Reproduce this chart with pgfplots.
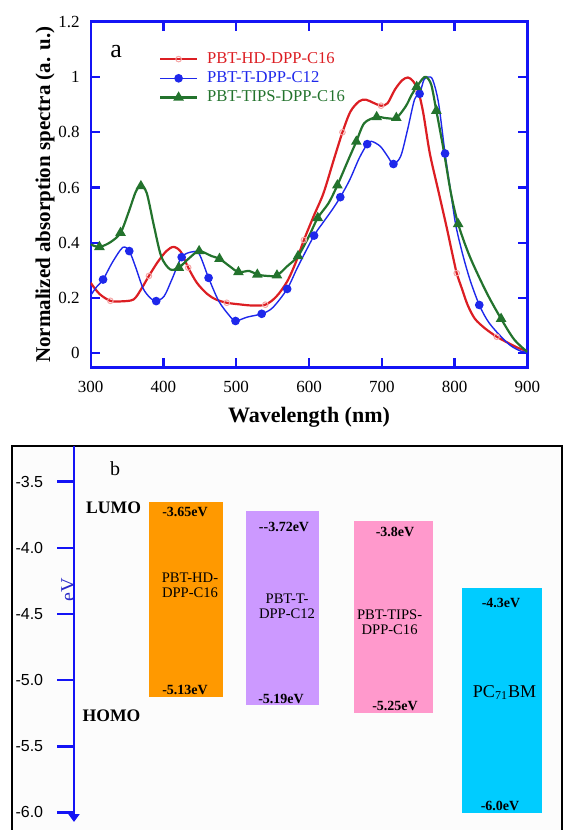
\documentclass[border=0pt]{standalone}
\usepackage{fontspec}
\setmainfont{Liberation Serif}
\newfontfamily\arialfont{Liberation Sans}
\usepackage{pgfplots}
\pgfplotsset{compat=1.18}
\usetikzlibrary{arrows.meta}

\definecolor{frameblue}{RGB}{20,20,245}
\definecolor{redc}{RGB}{220,30,35}
\definecolor{redmk}{RGB}{245,165,165}
\definecolor{bluec}{RGB}{30,40,235}
\definecolor{greenc}{RGB}{35,115,45}
\definecolor{barorange}{HTML}{FF9900}
\definecolor{barpurple}{HTML}{CC99FF}
\definecolor{barpink}{HTML}{FF99CC}
\definecolor{barcyan}{HTML}{00CCFF}
\definecolor{evblue}{RGB}{40,40,200}

\begin{document}
\begin{tikzpicture}
\useasboundingbox (0,0) rectangle (281.5pt,415pt);

% ---- panel a: absorption spectra
\begin{axis}[
  at={(45.35pt,231.15pt)}, anchor=south west,
  scale only axis, width=218.3pt, height=173pt,
  xmin=300, xmax=900, ymin=-0.052, ymax=1.2,
  xtick={300,400,500,600,700,800,900},
  ytick={0,0.2,0.4,0.6,0.8,1,1.2},
  axis line style={frameblue, line width=1.2pt},
  every tick/.style={frameblue, line width=1.1pt},
  tick align=inside, major tick length=4.6pt,
  tick label style={font=\fontsize{8.5}{9}\selectfont},
  /pgf/number format/assume math mode=true,
  xticklabel style={yshift=-3pt},
  yticklabel style={xshift=-2pt},
  xlabel={Wavelength (nm)},
  ylabel={Normalized absorption spectra (a. u.)},
  every axis x label/.style={at={(rel axis cs:0.5,0)}, yshift=-25pt, anchor=center,
    font=\fontsize{11}{12}\selectfont\bfseries},
  every axis y label/.style={at={(rel axis cs:0,0.5)}, xshift=-22.8pt, rotate=90, anchor=center,
    font=\fontsize{10.5}{12}\selectfont\bfseries},
  legend style={at={(rel axis cs:0.142,0.93)}, anchor=north west, draw=none, fill=none,
    font=\fontsize{8.3}{8.3}\selectfont, row sep=0.8pt, column sep=4pt,
    nodes={inner sep=0.5pt, text height=6pt, text depth=1.8pt}},
  legend cell align=left,
  legend image code/.code={\draw[mark indices={2}] plot coordinates {(0pt,0pt) (9.2pt,0pt) (18.4pt,0pt)};},
]
\addplot[redc, line width=1.1pt, smooth, mark=o, mark size=1.4pt,
  mark options={draw=redmk, line width=0.5pt},
  mark indices={3,7,12,16,19,23,27,32,38,44,49}] coordinates {
  (300,0.255) (312,0.215) (327,0.19) (342,0.188) (359,0.195) (370,0.235)
  (380,0.28) (392,0.33) (404,0.37) (414,0.385) (424,0.367) (434,0.31)
  (446,0.255) (460,0.215) (472,0.195) (487,0.183) (505,0.177) (522,0.173)
  (540,0.176) (555,0.205) (570,0.26) (582,0.33) (593,0.41) (607,0.5)
  (620,0.58) (634,0.7) (646,0.8) (657,0.875) (669,0.912) (678,0.918)
  (688,0.907) (699,0.896) (708,0.905) (718,0.954) (728,0.988) (736,0.998)
  (743,0.985) (750,0.95) (757,0.87) (766,0.724) (778,0.585) (789,0.458)
  (797,0.36) (803,0.29) (810,0.235) (818,0.175) (828,0.125) (842,0.09)
  (858,0.06) (872,0.04) (887,0.02) (900,0.008)
};
\addlegendentry{\textcolor{redc}{PBT-HD-DPP-C16}}
\addplot[bluec, line width=0.7pt, smooth, mark=*, mark size=1.8pt,
  mark options={fill=bluec, draw=bluec},
  mark indices={3,6,10,13,16,19,21,23,25,28,31,35,39,44,49}] coordinates {
  (300,0.21) (308,0.24) (317,0.267) (330,0.33) (344,0.383) (353,0.37)
  (362,0.31) (372,0.235) (382,0.2) (390,0.189) (401,0.207) (412,0.27)
  (425,0.348) (439,0.367) (449,0.36) (462,0.273) (476,0.189) (491,0.135)
  (499,0.117) (515,0.131) (535,0.143) (550,0.165) (570,0.233) (585,0.315)
  (607,0.426) (619,0.472) (632,0.52) (643,0.565) (656,0.628) (669,0.706)
  (680,0.757) (686,0.767) (698,0.749) (708,0.713) (716,0.685) (726,0.713)
  (735,0.804) (745,0.918) (752,0.939) (758,0.99) (764,1.0) (770,0.99)
  (778,0.906) (787,0.723) (795,0.58) (802,0.46) (812,0.35) (822,0.26)
  (834,0.175) (845,0.12) (857,0.08) (876,0.03) (891,0.008) (900,0.004)
};
\addlegendentry{\textcolor{bluec}{PBT-T-DPP-C12}}
\addplot[greenc, line width=1.1pt, smooth, mark=triangle*, mark size=2pt,
  mark options={fill=greenc, draw=greenc},
  mark indices={2,4,7,12,14,16,18,20,22,24,26,28,30,32,34,37,41,44,47}] coordinates {
  (300,0.394) (312,0.385) (327,0.402) (341,0.436) (352,0.51) (362,0.585)
  (369,0.605) (377,0.58) (387,0.46) (397,0.35) (409,0.304) (421,0.31)
  (436,0.346) (449,0.37) (466,0.352) (477,0.342) (491,0.315) (503,0.294)
  (518,0.298) (529,0.285) (543,0.28) (556,0.282) (570,0.315) (585,0.352)
  (600,0.424) (612,0.49) (627,0.544) (639,0.608) (654,0.7) (665,0.766)
  (676,0.833) (693,0.855) (706,0.851) (720,0.852) (733,0.894) (741,0.935)
  (748,0.964) (756,0.993) (761,1.0) (768,0.972) (775,0.878) (785,0.736)
  (795,0.58) (805,0.468) (821,0.35) (844,0.22) (864,0.125) (882,0.05)
  (900,0.005)
};
\addlegendentry{\textcolor{greenc}{PBT-TIPS-DPP-C16}}
\node[font=\fontsize{13}{14}\selectfont] at (axis cs:335,1.092) {a};
\end{axis}

% ---- panel b: energy levels (frame, bars, texts)
\begin{axis}[
  at={(5.85pt,-2.5pt)}, anchor=south west,
  scale only axis, width=275pt, height=194.5pt,
  xmin=11.7, xmax=561.7, ymin=-6.170, ymax=-3.23,
  axis line style={black, line width=1.1pt},
  ticks=none, clip=false,
  axis background/.style={fill=black!1},
]
\addplot[fill=barorange, draw=none] coordinates {(149,-3.65) (222.6,-3.65) (222.6,-5.13) (149,-5.13)};
\addplot[fill=barpurple, draw=none] coordinates {(245.6,-3.72) (318.9,-3.72) (318.9,-5.19) (245.6,-5.19)};
\addplot[fill=barpink, draw=none] coordinates {(354.4,-3.8) (432.7,-3.8) (432.7,-5.25) (354.4,-5.25)};
\addplot[fill=barcyan, draw=none] coordinates {(461.8,-4.3) (541.7,-4.3) (541.7,-6.0) (461.8,-6.0)};
\begin{scope}[every node/.style={font=\fontsize{7}{8}\selectfont\bfseries}]
\node at (axis cs:185,-3.728) {-3.65eV};
\node at (axis cs:284,-3.841) {-{}-3.72eV};
\node at (axis cs:395,-3.876) {-3.8eV};
\node at (axis cs:501,-4.413) {-4.3eV};
\node at (axis cs:185,-5.077) {-5.13eV};
\node at (axis cs:281,-5.140) {-5.19eV};
\node at (axis cs:395,-5.197) {-5.25eV};
\node at (axis cs:500,-5.947) {-6.0eV};
\end{scope}
\begin{scope}[every node/.style={align=center, font=\fontsize{7.3}{7.5}\selectfont}]
\node at (axis cs:190,-4.286) {PBT-HD-\\DPP-C16};
\node at (axis cs:287,-4.44) {PBT-T-\\DPP-C12};
\node at (axis cs:389.6,-4.561) {PBT-TIPS-\\DPP-C16};
\end{scope}
\node[font=\fontsize{9}{10}\selectfont] at (axis cs:504.5,-5.09) {PC\textsubscript{71}BM};
\node[font=\fontsize{8.8}{10}\selectfont\bfseries] at (axis cs:113.6,-3.70) {LUMO};
\node[font=\fontsize{8.8}{10}\selectfont\bfseries] at (axis cs:111.5,-5.271) {HOMO};
\node[font=\fontsize{10}{11}\selectfont] at (axis cs:115,-3.404) {b};
\node[rotate=90, text=evblue, font=\fontsize{10}{11}\selectfont] at (axis cs:68,-4.319) {eV};
\end{axis}

% ---- panel b: energy axis with arrow
\begin{axis}[
  at={(37pt,4pt)}, anchor=south west,
  scale only axis, width=50pt, height=188pt,
  xmin=0, xmax=1, ymin=-6.072, ymax=-3.23,
  axis x line=none, axis y line*=left,
  y axis line style={draw=frameblue, line width=1.35pt, {Triangle[width=5.5pt,length=4pt]}-},
  ytick={-3.5,-4,-4.5,-5,-5.5,-6},
  yticklabels={-3.5,-4.0,-4.5,-5.0,-5.5,-6.0},
  tick align=outside, major tick length=8.4pt,
  every tick/.style={frameblue, line width=1.3pt},
  yticklabel style={font=\arialfont\fontsize{8}{9}\selectfont, xshift=-3.5pt},
]
\end{axis}
\end{tikzpicture}
\end{document}
